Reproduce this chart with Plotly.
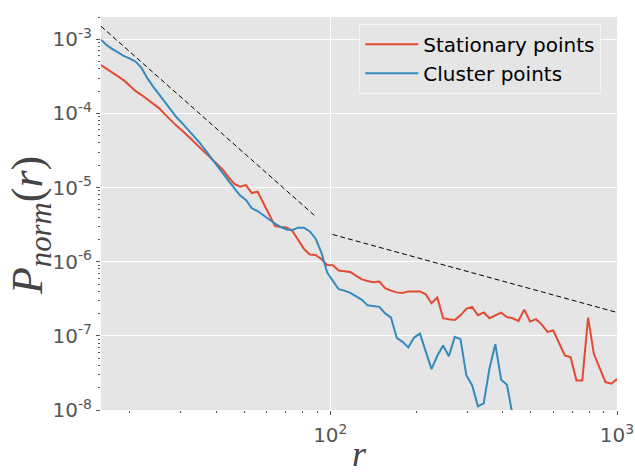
import plotly.graph_objects as go

# log-spaced radial bins (r)
r_bins = [15.85, 16.60, 17.39, 18.23, 19.09, 20.00, 20.96, 21.96, 23.00, 24.10,
          25.25, 26.45, 27.71, 29.03, 30.42, 31.87, 33.39, 34.98, 36.65, 38.40,
          40.23, 42.15, 44.16, 46.27, 48.47, 50.78, 53.21, 55.74, 58.40, 61.19,
          64.11, 67.16, 70.37, 73.72, 77.24, 80.92, 84.78, 88.82, 93.06, 97.45,
          102.1, 106.9, 112.0, 117.4, 123.0, 128.9, 135.0, 141.5, 148.2, 155.3,
          162.7, 170.4, 178.6, 187.1, 196.0, 205.4, 215.2, 225.4, 236.1, 247.4,
          259.2, 271.6, 284.5, 298.1, 312.3, 327.2, 342.8, 359.2, 376.3, 394.3,
          413.1, 432.5, 453.2, 474.8, 497.5, 521.2, 546.1, 572.1, 599.4, 628.1,
          657.7, 689.1, 722.0, 756.6, 792.6, 830.4, 870.1, 911.5, 955.0, 1000.0]

stationary = [4.48e-4, 4.02e-4, 3.55e-4, 3.14e-4, 2.77e-4, 2.33e-4, 2.00e-4, 1.77e-4, 1.54e-4, 1.34e-4,
              1.18e-4, 9.79e-5, 8.13e-5, 6.86e-5, 5.87e-5, 4.95e-5, 4.11e-5, 3.47e-5, 2.97e-5, 2.50e-5,
              2.08e-5, 1.75e-5, 1.37e-5, 1.12e-5, 1.03e-5, 1.08e-5, 8.45e-6, 8.79e-6, 6.19e-6, 4.27e-6,
              3.03e-6, 2.94e-6, 2.90e-6, 2.60e-6, 1.97e-6, 1.49e-6, 1.25e-6, 1.23e-6, 1.09e-6, 9.05e-7,
              8.97e-7, 7.63e-7, 7.44e-7, 7.28e-7, 6.44e-7, 5.77e-7, 5.51e-7, 5.29e-7, 5.39e-7, 4.39e-7,
              4.08e-7, 3.86e-7, 3.80e-7, 3.98e-7, 3.98e-7, 3.98e-7, 3.63e-7, 2.76e-7, 3.30e-7, 1.73e-7,
              1.67e-7, 1.64e-7, 1.89e-7, 2.31e-7, 2.46e-7, 1.90e-7, 2.07e-7, 1.73e-7, 1.89e-7, 2.06e-7,
              1.79e-7, 1.73e-7, 1.59e-7, 2.26e-7, 1.56e-7, 1.68e-7, 1.43e-7, 1.13e-7, 1.18e-7, 8.18e-8,
              5.43e-8, 5.14e-8, 2.50e-8, 2.50e-8, 1.76e-7, 5.73e-8, 3.67e-8, 2.38e-8, 2.26e-8, 2.61e-8]

cluster = [9.88e-4, 8.33e-4, 7.36e-4, 6.50e-4, 5.92e-4, 5.48e-4, 4.99e-4, 4.08e-4, 2.99e-4, 2.30e-4,
           1.82e-4, 1.47e-4, 1.13e-4, 8.93e-5, 7.41e-5, 6.06e-5, 5.03e-5, 4.05e-5, 3.21e-5, 2.50e-5,
           1.95e-5, 1.57e-5, 1.23e-5, 9.71e-6, 7.82e-6, 6.80e-6, 5.26e-6, 4.83e-6, 4.20e-6, 3.71e-6,
           3.28e-6, 2.94e-6, 2.72e-6, 2.68e-6, 2.88e-6, 2.88e-6, 2.56e-6, 2.06e-6, 1.33e-6, 7.17e-7,
           5.51e-7, 4.26e-7, 4.08e-7, 3.80e-7, 3.41e-7, 3.06e-7, 2.58e-7, 2.54e-7, 2.46e-7, 2.01e-7,
           1.78e-7, 9.40e-8, 8.31e-8, 7.00e-8, 9.49e-8, 1.07e-7, 6.28e-8, 3.56e-8, 5.38e-8, 7.41e-8,
           5.30e-8, 9.70e-8, 9.03e-8, 2.94e-8, 2.16e-8, 1.12e-8, 1.23e-8, 3.67e-8, 7.73e-8, 2.56e-8,
           2.19e-8, 8.37e-9, None, None, None, None, None, None, None, None,
           None, None, None, None, None, None, None, None, None, None]

# reference power-law guide lines
guide1_r = [15.85, 88.44]
guide1_p = [1.50e-3, 4.14e-6]
guide2_r = [101.8, 1000.0]
guide2_p = [2.33e-6, 2.07e-7]

x_tickvals = [100, 1000]
x_ticktext = ["10<sup>2</sup>", "10<sup>3</sup>"]
y_tickvals = [1e-8, 1e-7, 1e-6, 1e-5, 1e-4, 1e-3]
y_ticktext = ["10<sup>-8</sup>", "10<sup>-7</sup>", "10<sup>-6</sup>",
              "10<sup>-5</sup>", "10<sup>-4</sup>", "10<sup>-3</sup>"]

x_label = "<i>r</i>"
y_label = "<i>P</i><sub><i>norm</i></sub>(<i>r</i>)"

RED = "#E24A33"
BLUE = "#348ABD"
TICK = "#555555"

fig = go.Figure()
fig.add_trace(go.Scatter(x=r_bins, y=stationary, mode="lines", name="Stationary points",
                         line=dict(color=RED, width=2)))
fig.add_trace(go.Scatter(x=r_bins, y=cluster, mode="lines", name="Cluster points",
                         line=dict(color=BLUE, width=2), connectgaps=False))
fig.add_trace(go.Scatter(x=guide1_r, y=guide1_p, mode="lines", showlegend=False,
                         line=dict(color="black", width=1, dash="5px,3px")))
fig.add_trace(go.Scatter(x=guide2_r, y=guide2_p, mode="lines", showlegend=False,
                         line=dict(color="black", width=1, dash="5px,3px")))

minor_x = [m * 10 ** e for e in (1, 2) for m in range(2, 10)]
minor_y = [m * 10 ** e for e in range(-8, -2) for m in range(2, 10)]

fig.update_xaxes(type="log", range=[1.2, 3], tickmode="array", tickvals=x_tickvals,
                 ticktext=x_ticktext, showgrid=True, gridcolor="white", gridwidth=1,
                 ticks="outside", ticklen=4, tickcolor=TICK, zeroline=False, showline=False,
                 automargin=False, ticklabelstandoff=3,
                 tickfont=dict(family="DejaVu Sans", size=20, color=TICK),
                 minor=dict(tickmode="array", tickvals=minor_x, ticks="outside", ticklen=2,
                            tickcolor=TICK, showgrid=False))
fig.update_yaxes(type="log", range=[-8, -2.699], tickmode="array", tickvals=y_tickvals,
                 ticktext=y_ticktext, showgrid=True, gridcolor="white", gridwidth=1,
                 ticks="outside", ticklen=4, tickcolor=TICK, zeroline=False, showline=False,
                 automargin=False,
                 tickfont=dict(family="DejaVu Sans", size=20, color=TICK),
                 minor=dict(tickmode="array", tickvals=minor_y, ticks="outside", ticklen=2,
                            tickcolor=TICK, showgrid=False))

fig.add_annotation(text=x_label, xref="paper", yref="paper", x=0.501, y=-0.113,
                   xanchor="center", yanchor="middle", showarrow=False,
                   font=dict(family="Liberation Serif", size=36, color="#444444"))
fig.add_annotation(text=y_label, xref="paper", yref="paper", x=-0.138, y=0.47,
                   xanchor="center", yanchor="middle", showarrow=False, textangle=-90,
                   font=dict(family="Liberation Serif", size=44, color="#444444"))

fig.update_layout(
    width=635, height=473,
    margin=dict(l=101, r=18, t=17, b=63),
    paper_bgcolor="white", plot_bgcolor="#E5E5E5",
    showlegend=True,
    legend=dict(x=0.5006, y=0.983, xanchor="left", yanchor="top",
                bgcolor="#E5E5E5", bordercolor="#F4F4F4", borderwidth=1,
                font=dict(family="DejaVu Sans", size=20, color="black"),
                itemwidth=53),
)

fig.write_html("out.html", config={"displayModeBar": False},
               post_script="document.body.style.margin='0px';")
